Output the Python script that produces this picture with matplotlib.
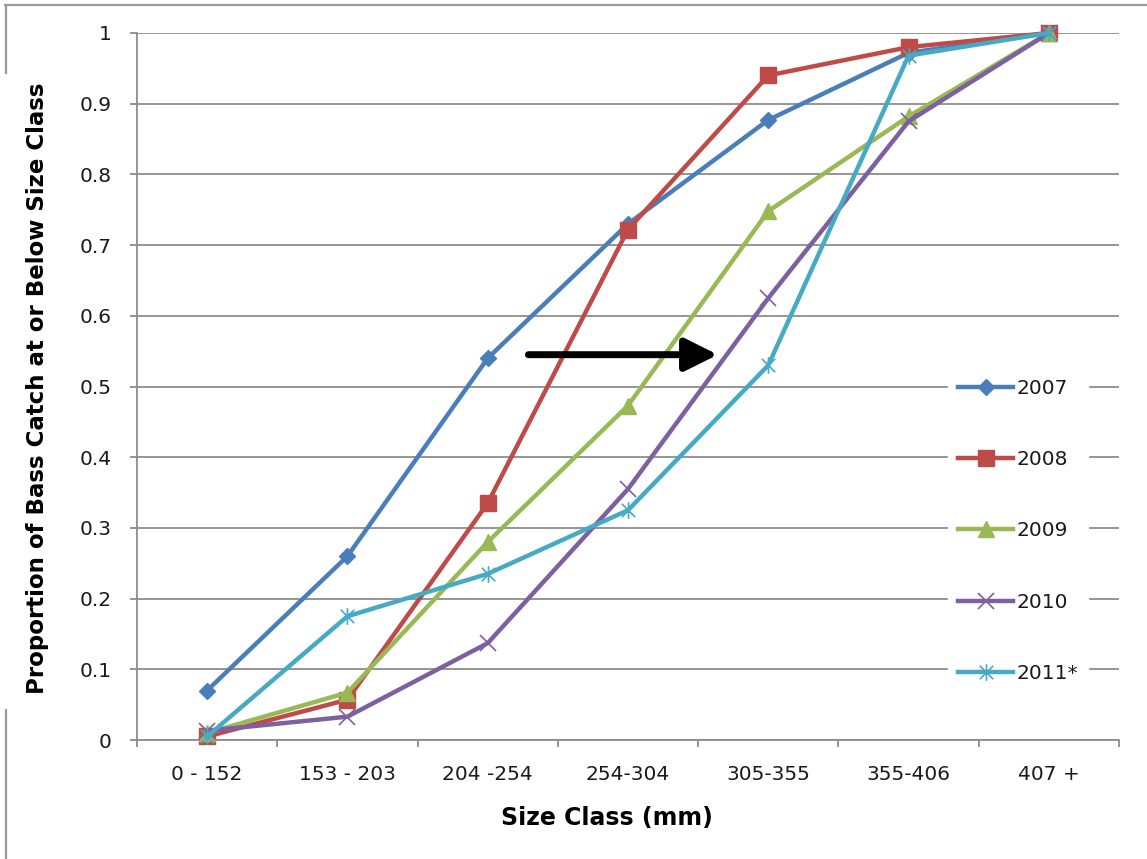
import matplotlib
matplotlib.use("Agg")
import matplotlib.pyplot as plt
from matplotlib.path import Path
from matplotlib.lines import Line2D
from matplotlib.patches import FancyArrowPatch

# Cumulative proportion of bass catch at or below each size class
size_classes = ["0 - 152", "153 - 203", "204 -254", "254-304", "305-355", "355-406", "407 +"]
years = ["2007", "2008", "2009", "2010", "2011*"]
p2007 = [0.07, 0.26, 0.54, 0.73, 0.877, 0.972, 1.0]
p2008 = [0.005, 0.057, 0.335, 0.722, 0.94, 0.98, 1.0]
p2009 = [0.01, 0.067, 0.28, 0.473, 0.748, 0.882, 1.0]
p2010 = [0.013, 0.033, 0.137, 0.355, 0.625, 0.875, 1.0]
p2011 = [0.005, 0.175, 0.235, 0.325, 0.53, 0.968, 1.0]
y_ticks = [0, 0.1, 0.2, 0.3, 0.4, 0.5, 0.6, 0.7, 0.8, 0.9, 1.0]
y_tick_labels = ["0", "0.1", "0.2", "0.3", "0.4", "0.5", "0.6", "0.7", "0.8", "0.9", "1"]

# shift arrow (from/to, in data units)
arrow_from = (2.29, 0.545)
arrow_to = (3.64, 0.545)

W, H = 1147, 859
fig = plt.figure(figsize=(W / 100, H / 100), dpi=100)
fig.patch.set_facecolor("white")

ax_l, ax_r, ax_t, ax_b = 137, 1119, 33, 740
ax = fig.add_axes([ax_l / W, (H - ax_b) / H, (ax_r - ax_l) / W, (ax_b - ax_t) / H])

# star marker: an x with a vertical stroke
star = Path([(-0.5, -0.5), (0.5, 0.5), (-0.5, 0.5), (0.5, -0.5), (0, -0.62), (0, 0.62)],
            [Path.MOVETO, Path.LINETO] * 3)

series = [p2007, p2008, p2009, p2010, p2011]
colors = ["#4A7EBB", "#BE4B48", "#98B954", "#7D60A0", "#46AAC5"]
styles = [
    dict(marker="D", ms=8.5, mfc=colors[0], mec=colors[0], mew=1),
    dict(marker="s", ms=11.5, mfc=colors[1], mec=colors[1], mew=1),
    dict(marker="^", ms=11, mfc=colors[2], mec=colors[2], mew=1),
    dict(marker="x", ms=11, mfc="none", mec=colors[3], mew=1.2),
    dict(marker=star, ms=12, mfc="none", mec=colors[4], mew=1.2),
]

x = list(range(len(size_classes)))
for vals, name, c, st in zip(series, years, colors, styles):
    ax.plot(x, vals, color=c, lw=3.2, label=name, clip_on=False, zorder=3,
            solid_joinstyle="round", **st)

ax.set_xlim(-0.5, len(size_classes) - 0.5)
ax.set_ylim(0, 1)

ax.set_yticks(y_ticks)
ax.set_yticklabels(y_tick_labels)
ax.set_xticks(x)
ax.set_xticklabels(size_classes)
ax.set_xticks([i + 0.5 for i in range(-1, len(size_classes))], minor=True)

grid_c = "#8C8C8C"
ax.yaxis.grid(True, color=grid_c, lw=1.3)
ax.set_axisbelow(True)
for s in ["top", "right"]:
    ax.spines[s].set_visible(False)
for s in ["left", "bottom"]:
    ax.spines[s].set_color(grid_c)
    ax.spines[s].set_linewidth(1.3)

ax.tick_params(axis="y", which="major", length=5, width=1.3, color=grid_c,
               labelsize=14.5, pad=13, labelcolor="#1a1a1a")
ax.tick_params(axis="x", which="major", length=0, labelsize=14.5, pad=18,
               labelcolor="#1a1a1a")
ax.tick_params(axis="x", which="minor", length=5, width=1.3, color=grid_c)

# arrow showing the shift toward larger size classes
arrow = FancyArrowPatch(arrow_from, arrow_to, arrowstyle="-|>,head_length=0.9,head_width=0.45",
                        mutation_scale=22, lw=5, color="black", zorder=4,
                        shrinkA=0, shrinkB=0)
ax.add_patch(arrow)

leg = ax.legend(loc="center left", bbox_to_anchor=((948 - ax_l) / (ax_r - ax_l), 0.2957),
                frameon=True, fancybox=False, framealpha=1, edgecolor="white",
                facecolor="white", fontsize=14.5, handlelength=2.75, handletextpad=0.15,
                labelspacing=2.6, borderpad=0.5, borderaxespad=0)
for t in leg.get_texts():
    t.set_color("#1a1a1a")

fig.text(607 / W, 1 - 818 / H, "Size Class (mm)", ha="center", va="center",
         fontsize=17, fontweight="bold", family="DejaVu Sans")
fig.text(38 / W, 1 - 388 / H, "Proportion of Bass Catch at or Below Size Class",
         ha="center", va="center", rotation=90, fontsize=16.5, fontweight="bold",
         family="DejaVu Sans")

# outer frame fragments
frame_c = "#9A9A9A"
fig.add_artist(Line2D([5 / W, 1], [1 - 5 / H, 1 - 5 / H], color=frame_c, lw=1.6))
fig.add_artist(Line2D([6 / W, 6 / W], [1 - 5 / H, 1 - 73 / H], color=frame_c, lw=1.6))
fig.add_artist(Line2D([6 / W, 6 / W], [1 - 710 / H, 0], color=frame_c, lw=1.6))

fig.savefig("out.png", dpi=100)
